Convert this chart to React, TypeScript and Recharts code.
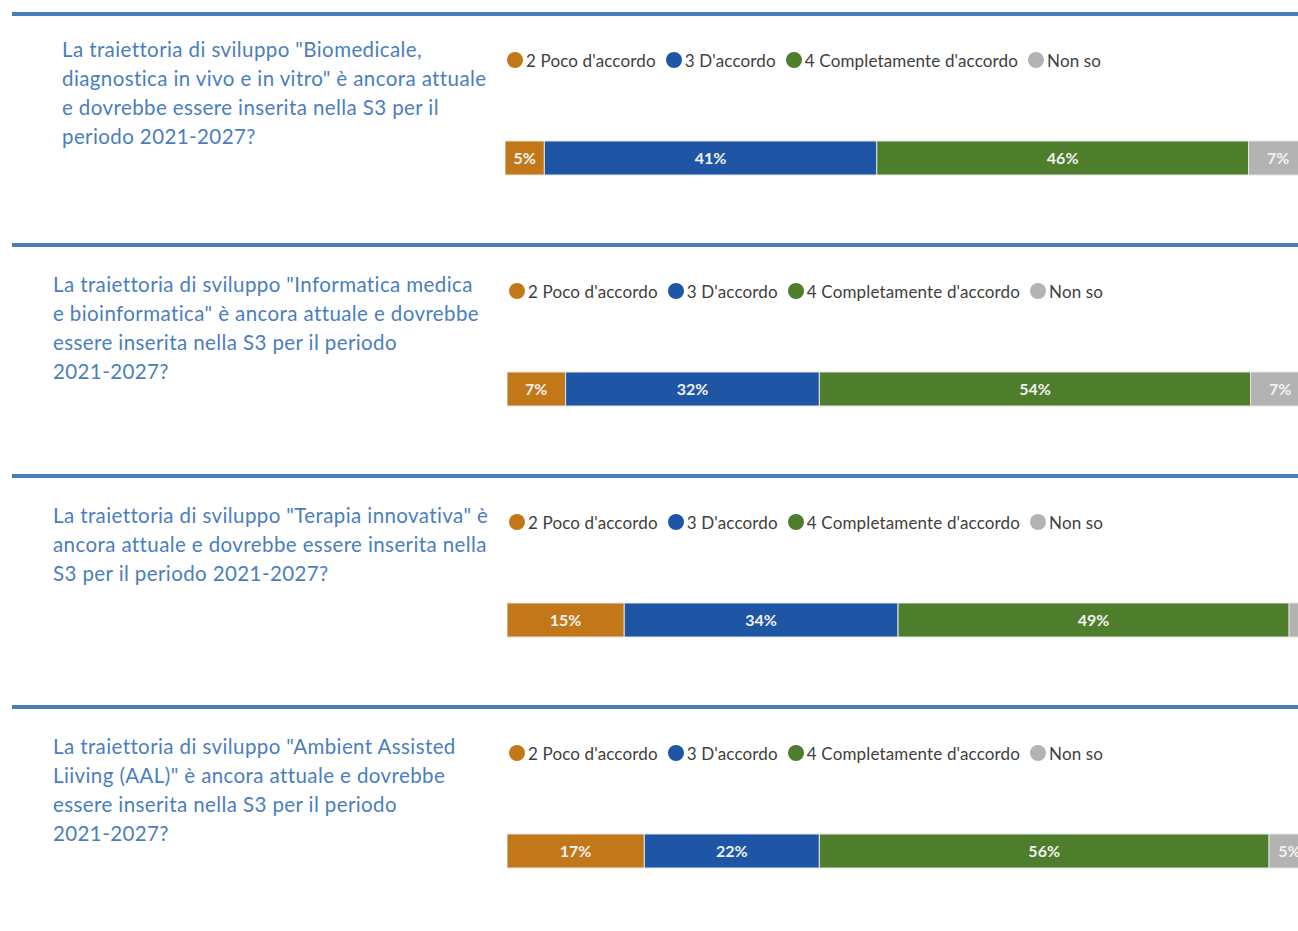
import { BarChart, Bar, XAxis, YAxis, Legend, LabelList } from "recharts";

// question text, already split into the lines shown in the survey report
const questions = [
  [
    'La traiettoria di sviluppo "Biomedicale,',
    'diagnostica in vivo e in vitro" è ancora attuale',
    "e dovrebbe essere inserita nella S3 per il",
    "periodo 2021-2027?",
  ],
  [
    'La traiettoria di sviluppo "Informatica medica',
    'e bioinformatica" è ancora attuale e dovrebbe',
    "essere inserita nella S3 per il periodo",
    "2021-2027?",
  ],
  [
    'La traiettoria di sviluppo "Terapia innovativa" è',
    "ancora attuale e dovrebbe essere inserita nella",
    "S3 per il periodo 2021-2027?",
  ],
  [
    'La traiettoria di sviluppo "Ambient Assisted',
    'Liiving (AAL)" è ancora attuale e dovrebbe',
    "essere inserita nella S3 per il periodo",
    "2021-2027?",
  ],
];

// answer shares (%) per question
const pocoAccordo = [4.9, 7.3, 14.6, 17.1];
const dAccordo = [41.4, 31.6, 34.1, 21.8];
const completamente = [46.3, 53.7, 48.7, 56.0];
const nonSo = [7.4, 7.4, 2.6, 5.1];

const seriesNames = [
  "2 Poco d'accordo",
  "3 D'accordo",
  "4 Completamente d'accordo",
  "Non so",
];
const seriesKeys = ["poco", "accordo", "completo", "nonso"];
const colors = ["#c27818", "#1f55a5", "#4e7d2c", "#b3b3b3"];

const FONT = "Lato, 'Noto Sans', sans-serif";
const PANEL_STEP = 231;
const FIRST_LINE = 14;

const renderLegend = () => (
  <div
    style={{
      display: "flex",
      alignItems: "center",
      height: 26,
      fontFamily: FONT,
      fontSize: 17,
      letterSpacing: 0.15,
      color: "#404040",
      whiteSpace: "nowrap",
    }}
  >
    {seriesNames.map((n, i) => (
      <span key={n} style={{ display: "flex", alignItems: "center", marginRight: 10 }}>
        <span
          style={{
            width: 16,
            height: 16,
            borderRadius: "50%",
            background: colors[i],
            display: "inline-block",
            marginRight: 3,
          }}
        />
        {n}
      </span>
    ))}
  </div>
);

const pctLabel = (v: any) => (Number(v) < 3 ? "" : Math.round(Number(v)) + "%");

function Panel({ idx }: { idx: number }) {
  const lineY = FIRST_LINE + idx * PANEL_STEP;
  const first = idx === 0;
  const data = [
    {
      name: "q",
      poco: pocoAccordo[idx],
      accordo: dAccordo[idx],
      completo: completamente[idx],
      nonso: nonSo[idx],
    },
  ];
  return (
    <>
      <div
        style={{
          position: "absolute",
          left: 12,
          top: lineY - 2,
          width: 1290,
          height: 4,
          background: "#4a7ebb",
        }}
      />
      <div
        style={{
          position: "absolute",
          left: first ? 62 : 53,
          top: lineY + (first ? 21 : 25),
          fontFamily: FONT,
          fontSize: 20.5,
          letterSpacing: 0.4,
          lineHeight: "29px",
          color: "#4a7ebf",
          whiteSpace: "nowrap",
        }}
      >
        {questions[idx].map((l) => (
          <div key={l}>{l}</div>
        ))}
      </div>
      <div style={{ position: "absolute", left: first ? 505 : 507, top: lineY + 33 }}>
        <BarChart
          width={803}
          height={196}
          data={data}
          layout="vertical"
          margin={{ top: 0, right: 0, bottom: 0, left: 0 }}
        >
          <XAxis type="number" domain={[0, 100]} hide />
          <YAxis type="category" dataKey="name" hide />
          <Legend
            verticalAlign="top"
            align="left"
            content={renderLegend}
            wrapperStyle={{ left: 2 }}
          />
          {seriesKeys.map((k, i) => (
            <Bar
              key={k}
              dataKey={k}
              name={seriesNames[i]}
              stackId="a"
              fill={colors[i]}
              stroke="#e4e4e4"
              strokeWidth={1}
              barSize={34}
              isAnimationActive={false}
            >
              <LabelList
                dataKey={k}
                position="center"
                formatter={pctLabel}
                fill="#f2f2f2"
                fontSize={16}
                fontWeight={700}
                fontFamily={FONT}
              />
            </Bar>
          ))}
        </BarChart>
      </div>
    </>
  );
}

export default function App() {
  return (
    <div
      style={{
        position: "absolute",
        left: 0,
        top: 0,
        width: 1298,
        height: 931,
        overflow: "hidden",
        background: "#fff",
      }}
    >
      {questions.map((_, i) => (
        <Panel key={i} idx={i} />
      ))}
    </div>
  );
}
